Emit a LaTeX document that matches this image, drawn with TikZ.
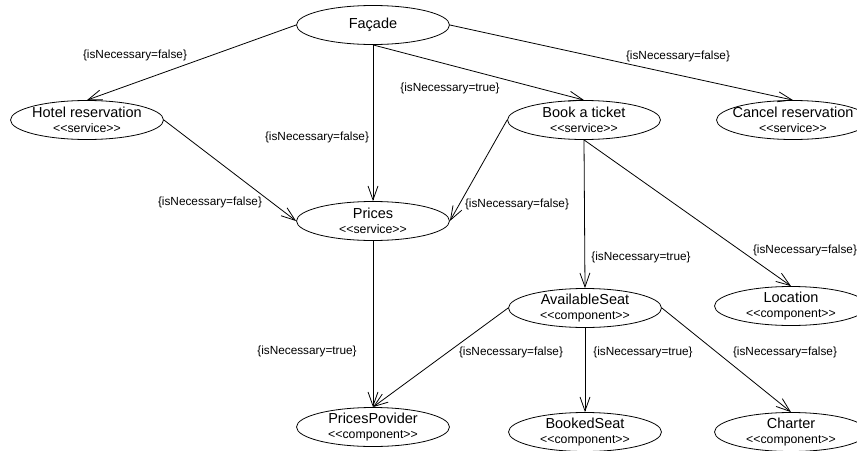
\documentclass[tikz,border=0pt]{standalone}
\usepackage{fontspec}
\setmainfont{Liberation Sans}
\usetikzlibrary{arrows.meta,shapes.geometric}
\newcommand{\stereo}[1]{{\fontsize{12.3}{15.5}\selectfont<\kern0pt<#1>\kern0pt>}}
\tikzset{
  unode/.style={ellipse,draw,line width=0.8pt,minimum width=153pt,minimum height=39pt,inner sep=-14pt,align=center,font=\fontsize{14.5}{15.5}\selectfont},
  uarr/.style={-{Straight Barb[length=14pt,width=10pt]},line width=0.8pt},
  ulbl/.style={font=\fontsize{11.8}{13}\selectfont,inner sep=0pt}
}

\begin{document}
\begin{tikzpicture}[x=1pt,y=-1pt]
  \useasboundingbox (0,0) rectangle (857,450);
  % services
  \node[unode] (fac) at (373,25) {Façade};
  \node[unode] (hot) at (87,120) {Hotel reservation\\\stereo{service}};
  \node[unode] (pri) at (373,221) {Prices\\\stereo{service}};
  \node[unode] (book) at (584,120) {Book a ticket\\\stereo{service}};
  \node[unode] (canc) at (793,120) {Cancel reservation\\\stereo{service}};
  % components
  \node[unode] (avail) at (585,308) {AvailableSeat\\\stereo{component}};
  \node[unode] (loc) at (791,306) {Location\\\stereo{component}};
  \node[unode] (ppv) at (373,427) {PricesPovider\\\stereo{component}};
  \node[unode] (booked) at (585,432) {BookedSeat\\\stereo{component}};
  \node[unode] (chart) at (791,432) {Charter\\\stereo{component}};
  % dependencies
  \draw[uarr] (fac.west) -- (hot.north) node[ulbl] at (135,55) {\{isNecessary=false\}};
  \draw[uarr] (fac.south) -- (pri.north) node[ulbl] at (317,137) {\{isNecessary=false\}};
  \draw[uarr] (fac.south) -- (book.north) node[ulbl] at (450,88) {\{isNecessary=true\}};
  \draw[uarr] (fac.east) -- (canc.north) node[ulbl] at (678,56) {\{isNecessary=false\}};
  \draw[uarr] (hot.east) -- (pri.west) node[ulbl] at (210,202) {\{isNecessary=false\}};
  \draw[uarr] (book.west) -- (pri.east) node[ulbl] at (517,204) {\{isNecessary=false\}};
  \draw[uarr] (book.south) -- (avail.north) node[ulbl] at (641,257) {\{isNecessary=true\}};
  \draw[uarr] (book.south) -- (loc.north) node[ulbl] at (805,250) {\{isNecessary=false\}};
  \draw[uarr] (pri.south) -- (ppv.north) node[ulbl] at (307,351) {\{isNecessary=true\}};
  \draw[uarr] (avail.west) -- (ppv.north) node[ulbl] at (511,352) {\{isNecessary=false\}};
  \draw[uarr] (avail.south) -- (booked.north) node[ulbl] at (643,352) {\{isNecessary=true\}};
  \draw[uarr] (avail.east) -- (chart.north) node[ulbl] at (785,352) {\{isNecessary=false\}};
\end{tikzpicture}
\end{document}
